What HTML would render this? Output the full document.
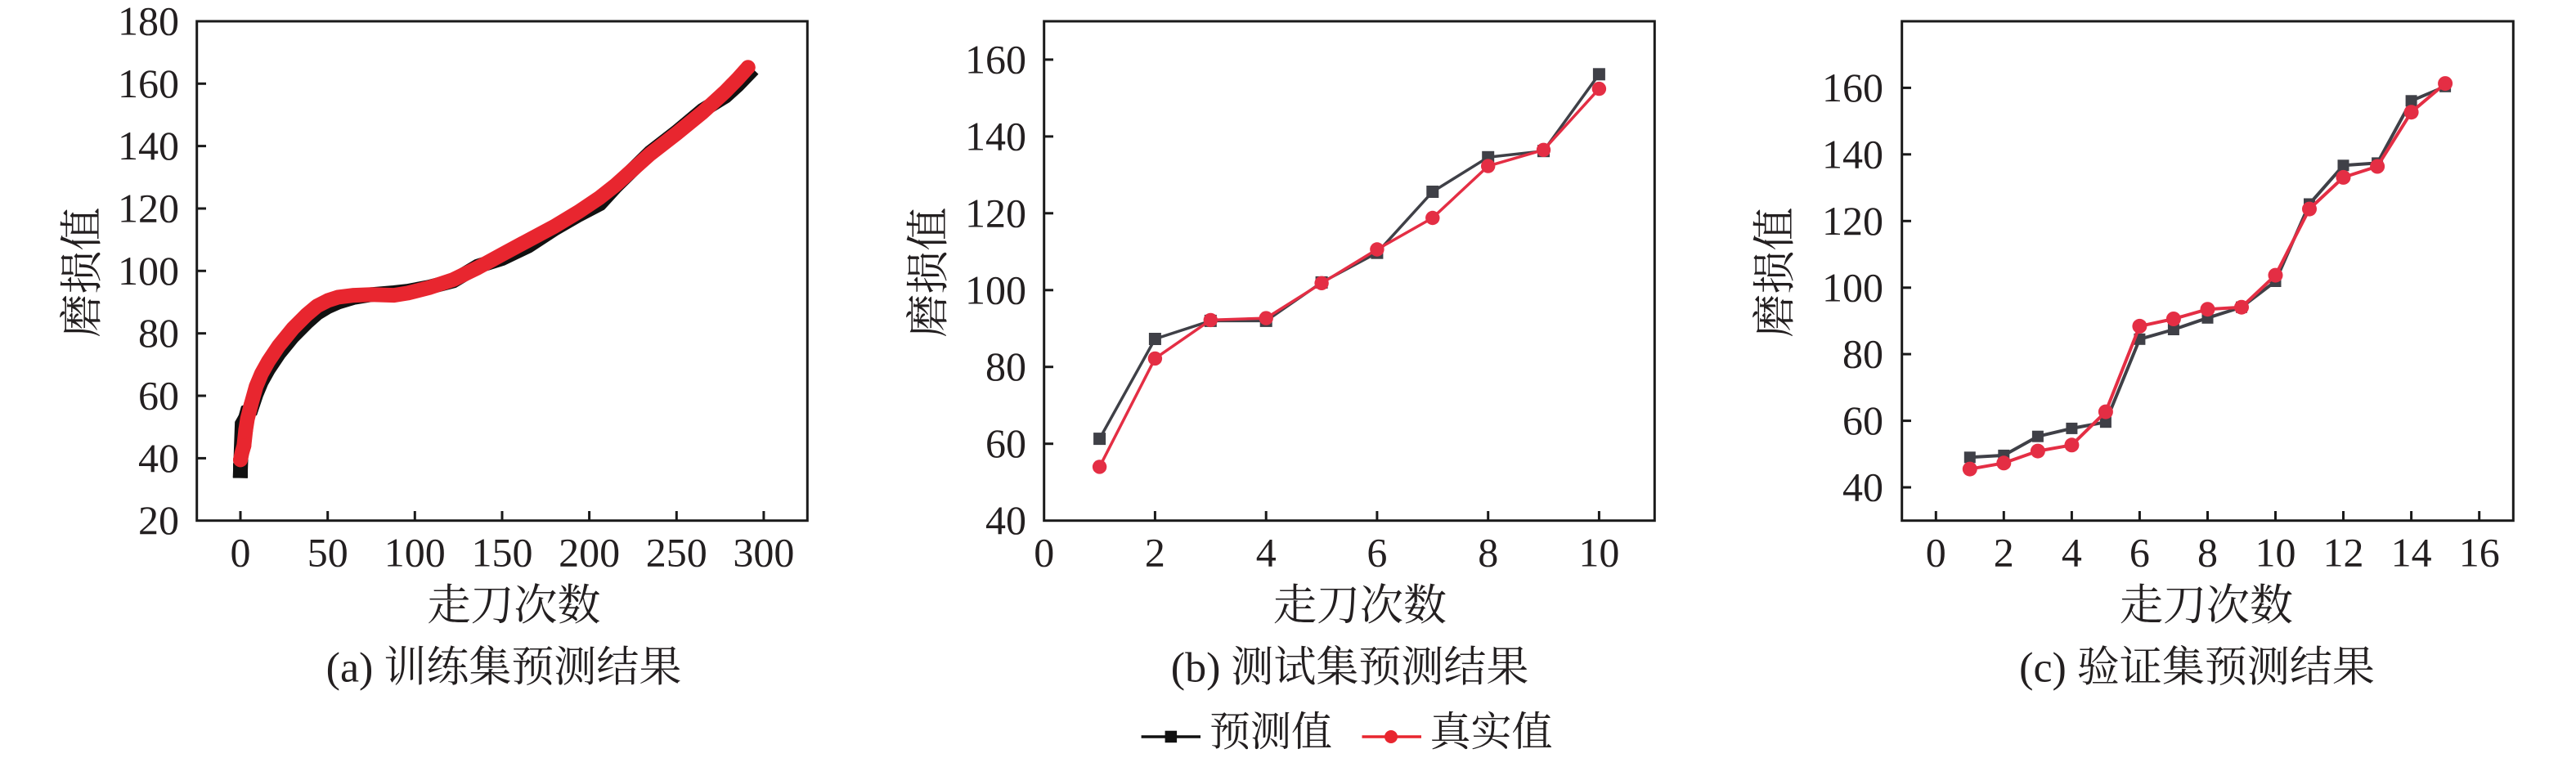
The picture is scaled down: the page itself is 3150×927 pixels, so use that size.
<!DOCTYPE html>
<html>
<head>
<meta charset="utf-8">
<style>
  html, body { margin: 0; padding: 0; background: #fff; }
  svg { display: block; }
  .num { font-family: "Liberation Serif", "Noto Serif CJK SC", serif; font-size: 50px; fill: #231f20; }
  .cjk { font-family: "Liberation Serif", "Noto Serif CJK SC", serif; font-size: 53px; fill: #231f20; }
  .cap { font-family: "Liberation Serif", "Noto Serif CJK SC", serif; font-size: 52px; fill: #231f20; }
  .leg { font-family: "Liberation Serif", "Noto Serif CJK SC", serif; font-size: 50px; fill: #231f20; }
</style>
</head>
<body>
<svg width="3150" height="927" viewBox="0 0 3150 927" xmlns="http://www.w3.org/2000/svg">
  <rect x="0" y="0" width="3150" height="927" fill="#ffffff"/>

  <!-- ===================== Panel (a) ===================== -->
  <g>
    <!-- black predicted band -->
    <polyline fill="none" stroke="#111111" stroke-width="18" stroke-linejoin="miter" stroke-linecap="square"
      points="294.0,575.6 296.1,518.4 298.3,514.5 300.4,510.7 302.5,503.1 306.8,501.2 313.2,482.1 319.6,466.8 328.1,451.6 340.9,432.5 358.0,411.5 375.1,394.3 387.9,382.9 400.7,375.2 413.4,369.5 432.6,363.8 454.0,360.3 481.7,358.0 498.8,356.1 524.4,351.2 554.2,343.5 584.1,325.6 614.0,316.1 646.0,300.8 678.0,279.8 707.8,262.6 733.4,249.3 752.6,228.3 773.9,207.3 795.3,186.3 827.3,161.5 859.2,134.8 887.0,117.6 901.9,104.2 914.7,90.9"/>
    <rect x="285" y="566.6" width="18" height="18" fill="#111111"/>
    <!-- red real band -->
    <polyline fill="none" stroke="#e8262f" stroke-width="18" stroke-linejoin="round" stroke-linecap="round"
      points="294.0,562.3 296.1,552.7 298.3,545.1 300.4,526.0 302.5,512.6 306.8,495.5 313.2,472.6 319.6,457.3 328.1,442.0 340.9,422.9 358.0,401.9 375.1,384.8 387.9,374.1 400.7,367.6 413.4,363.4 432.6,361.1 454.0,360.3 481.7,361.1 498.8,358.4 524.4,351.9 554.2,342.0 584.1,327.5 614.0,311.1 646.0,293.9 678.0,276.8 707.8,258.8 733.4,241.6 752.6,226.4 773.9,207.3 795.3,188.2 827.3,163.4 859.2,137.4 887.0,111.9 901.9,96.6 914.7,82.4"/>
    <circle cx="294.0" cy="562.3" r="9" fill="#e8262f"/>
    <circle cx="298.3" cy="545.1" r="9" fill="#e8262f"/>
    <circle cx="300.4" cy="526.0" r="9" fill="#e8262f"/>
    <circle cx="306.8" cy="495.5" r="9" fill="#e8262f"/>
    <circle cx="914.7" cy="82.4" r="9" fill="#e8262f"/>

    <!-- frame -->
    <rect x="240.7" y="26" width="746.6" height="610.7" fill="none" stroke="#1a1a1a" stroke-width="3"/>
    <!-- y ticks -->
    <g stroke="#1a1a1a" stroke-width="3">
      <line x1="240.7" y1="560.4" x2="252" y2="560.4"/>
      <line x1="240.7" y1="484.0" x2="252" y2="484.0"/>
      <line x1="240.7" y1="407.7" x2="252" y2="407.7"/>
      <line x1="240.7" y1="331.3" x2="252" y2="331.3"/>
      <line x1="240.7" y1="255.0" x2="252" y2="255.0"/>
      <line x1="240.7" y1="178.6" x2="252" y2="178.6"/>
      <line x1="240.7" y1="102.3" x2="252" y2="102.3"/>
      <!-- x ticks -->
      <line x1="294.0" y1="636.7" x2="294.0" y2="625"/>
      <line x1="400.7" y1="636.7" x2="400.7" y2="625"/>
      <line x1="507.3" y1="636.7" x2="507.3" y2="625"/>
      <line x1="614.0" y1="636.7" x2="614.0" y2="625"/>
      <line x1="720.6" y1="636.7" x2="720.6" y2="625"/>
      <line x1="827.3" y1="636.7" x2="827.3" y2="625"/>
      <line x1="933.9" y1="636.7" x2="933.9" y2="625"/>
    </g>
    <g class="num" text-anchor="end">
      <text x="219" y="653.2">20</text>
      <text x="219" y="576.9">40</text>
      <text x="219" y="500.5">60</text>
      <text x="219" y="424.2">80</text>
      <text x="219" y="347.8">100</text>
      <text x="219" y="271.5">120</text>
      <text x="219" y="195.1">140</text>
      <text x="219" y="118.8">160</text>
      <text x="219" y="42.5">180</text>
    </g>
    <g class="num" text-anchor="middle">
      <text x="294.0" y="692.5">0</text>
      <text x="400.7" y="692.5">50</text>
      <text x="507.3" y="692.5">100</text>
      <text x="614.0" y="692.5">150</text>
      <text x="720.6" y="692.5">200</text>
      <text x="827.3" y="692.5">250</text>
      <text x="933.9" y="692.5">300</text>
    </g>
    <text class="cjk" x="0" y="0" text-anchor="middle" dominant-baseline="central" transform="translate(101,333) rotate(-90)">磨损值</text>
    <text class="cjk" x="628.5" y="741" text-anchor="middle" dominant-baseline="central">走刀次数</text>
    <text class="cap" x="616" y="817" text-anchor="middle" dominant-baseline="central">(a) 训练集预测结果</text>
  </g>

  <!-- ===================== Panel (b) ===================== -->
  <g>
    <polyline fill="none" stroke="#3f4047" stroke-width="3.5" stroke-linejoin="round"
      points="1344.6,536.6 1412.4,414.5 1480.3,392.4 1548.2,392.4 1616.1,345.4 1683.9,309.2 1751.8,234.5 1819.7,192.3 1887.5,184.7 1955.4,90.8"/>
    <g fill="#3f4047">
      <rect x="1337.1" y="529.1" width="15" height="15"/>
      <rect x="1404.9" y="407.0" width="15" height="15"/>
      <rect x="1472.8" y="384.9" width="15" height="15"/>
      <rect x="1540.7" y="384.9" width="15" height="15"/>
      <rect x="1608.6" y="337.9" width="15" height="15"/>
      <rect x="1676.4" y="301.7" width="15" height="15"/>
      <rect x="1744.3" y="227.0" width="15" height="15"/>
      <rect x="1812.2" y="184.8" width="15" height="15"/>
      <rect x="1880.0" y="177.2" width="15" height="15"/>
      <rect x="1947.9" y="83.3" width="15" height="15"/>
    </g>
    <polyline fill="none" stroke="#e42e44" stroke-width="3.5" stroke-linejoin="round"
      points="1344.6,570.9 1412.4,438.4 1480.3,391.4 1548.2,389.1 1616.1,346.3 1683.9,305.0 1751.8,266.5 1819.7,203.1 1887.5,183.3 1955.4,108.6"/>
    <g fill="#e42e44">
      <circle cx="1344.6" cy="570.9" r="8.7"/>
      <circle cx="1412.4" cy="438.4" r="8.7"/>
      <circle cx="1480.3" cy="391.4" r="8.7"/>
      <circle cx="1548.2" cy="389.1" r="8.7"/>
      <circle cx="1616.1" cy="346.3" r="8.7"/>
      <circle cx="1683.9" cy="305.0" r="8.7"/>
      <circle cx="1751.8" cy="266.5" r="8.7"/>
      <circle cx="1819.7" cy="203.1" r="8.7"/>
      <circle cx="1887.5" cy="183.3" r="8.7"/>
      <circle cx="1955.4" cy="108.6" r="8.7"/>
    </g>

    <rect x="1276.7" y="26" width="746.6" height="610.7" fill="none" stroke="#1a1a1a" stroke-width="3"/>
    <g stroke="#1a1a1a" stroke-width="3">
      <line x1="1276.7" y1="542.7" x2="1288" y2="542.7"/>
      <line x1="1276.7" y1="448.7" x2="1288" y2="448.7"/>
      <line x1="1276.7" y1="354.8" x2="1288" y2="354.8"/>
      <line x1="1276.7" y1="260.8" x2="1288" y2="260.8"/>
      <line x1="1276.7" y1="166.9" x2="1288" y2="166.9"/>
      <line x1="1276.7" y1="72.9" x2="1288" y2="72.9"/>
      <line x1="1412.4" y1="636.7" x2="1412.4" y2="625"/>
      <line x1="1548.2" y1="636.7" x2="1548.2" y2="625"/>
      <line x1="1683.9" y1="636.7" x2="1683.9" y2="625"/>
      <line x1="1819.7" y1="636.7" x2="1819.7" y2="625"/>
      <line x1="1955.4" y1="636.7" x2="1955.4" y2="625"/>
    </g>
    <g class="num" text-anchor="end">
      <text x="1255" y="653.2">40</text>
      <text x="1255" y="559.2">60</text>
      <text x="1255" y="465.2">80</text>
      <text x="1255" y="371.3">100</text>
      <text x="1255" y="277.3">120</text>
      <text x="1255" y="183.4">140</text>
      <text x="1255" y="89.4">160</text>
    </g>
    <g class="num" text-anchor="middle">
      <text x="1276.7" y="692.5">0</text>
      <text x="1412.4" y="692.5">2</text>
      <text x="1548.2" y="692.5">4</text>
      <text x="1683.9" y="692.5">6</text>
      <text x="1819.7" y="692.5">8</text>
      <text x="1955.4" y="692.5">10</text>
    </g>
    <text class="cjk" x="0" y="0" text-anchor="middle" dominant-baseline="central" transform="translate(1136,333) rotate(-90)">磨损值</text>
    <text class="cjk" x="1663" y="741" text-anchor="middle" dominant-baseline="central">走刀次数</text>
    <text class="cap" x="1650.6" y="817" text-anchor="middle" dominant-baseline="central">(b) 测试集预测结果</text>
  </g>

  <!-- ===================== Panel (c) ===================== -->
  <g>
    <polyline fill="none" stroke="#3f4047" stroke-width="4" stroke-linejoin="round"
      points="2408.8,559.3 2450.3,556.9 2491.9,533.7 2533.4,523.9 2574.9,516.2 2616.4,414.8 2657.9,403.0 2699.5,388.8 2741.0,375.7 2782.5,344.0 2824.0,249.5 2865.5,202.3 2907.1,199.4 2948.6,123.3 2990.1,105.8"/>
    <g fill="#3f4047">
      <rect x="2401.8" y="552.3" width="14" height="14"/>
      <rect x="2443.3" y="549.9" width="14" height="14"/>
      <rect x="2484.9" y="526.7" width="14" height="14"/>
      <rect x="2526.4" y="516.9" width="14" height="14"/>
      <rect x="2567.9" y="509.2" width="14" height="14"/>
      <rect x="2609.4" y="407.8" width="14" height="14"/>
      <rect x="2650.9" y="396.0" width="14" height="14"/>
      <rect x="2692.5" y="381.8" width="14" height="14"/>
      <rect x="2734.0" y="368.7" width="14" height="14"/>
      <rect x="2775.5" y="337.0" width="14" height="14"/>
      <rect x="2817.0" y="242.5" width="14" height="14"/>
      <rect x="2858.5" y="195.3" width="14" height="14"/>
      <rect x="2900.1" y="192.4" width="14" height="14"/>
      <rect x="2941.6" y="116.3" width="14" height="14"/>
      <rect x="2983.1" y="98.8" width="14" height="14"/>
    </g>
    <polyline fill="none" stroke="#e42e44" stroke-width="4" stroke-linejoin="round"
      points="2408.8,573.6 2450.3,566.3 2491.9,551.6 2533.4,544.3 2574.9,503.6 2616.4,398.9 2657.9,390.0 2699.5,378.2 2741.0,375.7 2782.5,336.6 2824.0,255.6 2865.5,216.9 2907.1,203.5 2948.6,137.2 2990.1,102.1"/>
    <g fill="#e42e44">
      <circle cx="2408.8" cy="573.6" r="9"/>
      <circle cx="2450.3" cy="566.3" r="9"/>
      <circle cx="2491.9" cy="551.6" r="9"/>
      <circle cx="2533.4" cy="544.3" r="9"/>
      <circle cx="2574.9" cy="503.6" r="9"/>
      <circle cx="2616.4" cy="398.9" r="9"/>
      <circle cx="2657.9" cy="390.0" r="9"/>
      <circle cx="2699.5" cy="378.2" r="9"/>
      <circle cx="2741.0" cy="375.7" r="9"/>
      <circle cx="2782.5" cy="336.6" r="9"/>
      <circle cx="2824.0" cy="255.6" r="9"/>
      <circle cx="2865.5" cy="216.9" r="9"/>
      <circle cx="2907.1" cy="203.5" r="9"/>
      <circle cx="2948.6" cy="137.2" r="9"/>
      <circle cx="2990.1" cy="102.1" r="9"/>
    </g>

    <rect x="2325.7" y="26" width="747.6" height="610.7" fill="none" stroke="#1a1a1a" stroke-width="3"/>
    <g stroke="#1a1a1a" stroke-width="3">
      <line x1="2325.7" y1="596.0" x2="2337" y2="596.0"/>
      <line x1="2325.7" y1="514.6" x2="2337" y2="514.6"/>
      <line x1="2325.7" y1="433.1" x2="2337" y2="433.1"/>
      <line x1="2325.7" y1="351.8" x2="2337" y2="351.8"/>
      <line x1="2325.7" y1="270.3" x2="2337" y2="270.3"/>
      <line x1="2325.7" y1="188.8" x2="2337" y2="188.8"/>
      <line x1="2325.7" y1="107.4" x2="2337" y2="107.4"/>
      <line x1="2367.3" y1="636.7" x2="2367.3" y2="625"/>
      <line x1="2450.3" y1="636.7" x2="2450.3" y2="625"/>
      <line x1="2533.4" y1="636.7" x2="2533.4" y2="625"/>
      <line x1="2616.4" y1="636.7" x2="2616.4" y2="625"/>
      <line x1="2699.5" y1="636.7" x2="2699.5" y2="625"/>
      <line x1="2782.5" y1="636.7" x2="2782.5" y2="625"/>
      <line x1="2865.5" y1="636.7" x2="2865.5" y2="625"/>
      <line x1="2948.6" y1="636.7" x2="2948.6" y2="625"/>
      <line x1="3031.7" y1="636.7" x2="3031.7" y2="625"/>
    </g>
    <g class="num" text-anchor="end">
      <text x="2303" y="612.5">40</text>
      <text x="2303" y="531.1">60</text>
      <text x="2303" y="449.6">80</text>
      <text x="2303" y="368.3">100</text>
      <text x="2303" y="286.8">120</text>
      <text x="2303" y="205.3">140</text>
      <text x="2303" y="123.9">160</text>
    </g>
    <g class="num" text-anchor="middle">
      <text x="2367.3" y="692.5">0</text>
      <text x="2450.3" y="692.5">2</text>
      <text x="2533.4" y="692.5">4</text>
      <text x="2616.4" y="692.5">6</text>
      <text x="2699.5" y="692.5">8</text>
      <text x="2782.5" y="692.5">10</text>
      <text x="2865.5" y="692.5">12</text>
      <text x="2948.6" y="692.5">14</text>
      <text x="3031.7" y="692.5">16</text>
    </g>
    <text class="cjk" x="0" y="0" text-anchor="middle" dominant-baseline="central" transform="translate(2171,333) rotate(-90)">磨损值</text>
    <text class="cjk" x="2698" y="741" text-anchor="middle" dominant-baseline="central">走刀次数</text>
    <text class="cap" x="2686.5" y="817" text-anchor="middle" dominant-baseline="central">(c) 验证集预测结果</text>
  </g>

  <!-- ===================== Legend ===================== -->
  <g>
    <line x1="1395.6" y1="901" x2="1468" y2="901" stroke="#111111" stroke-width="3.5"/>
    <rect x="1424.6" y="893.7" width="14.5" height="14.5" fill="#111111"/>
    <text class="leg" x="1479" y="895" dominant-baseline="central">预测值</text>
    <line x1="1665.5" y1="901" x2="1738" y2="901" stroke="#e8262f" stroke-width="3.5"/>
    <circle cx="1701" cy="901" r="8" fill="#e8262f"/>
    <text class="leg" x="1748.5" y="895" dominant-baseline="central">真实值</text>
  </g>
</svg>
</body>
</html>
